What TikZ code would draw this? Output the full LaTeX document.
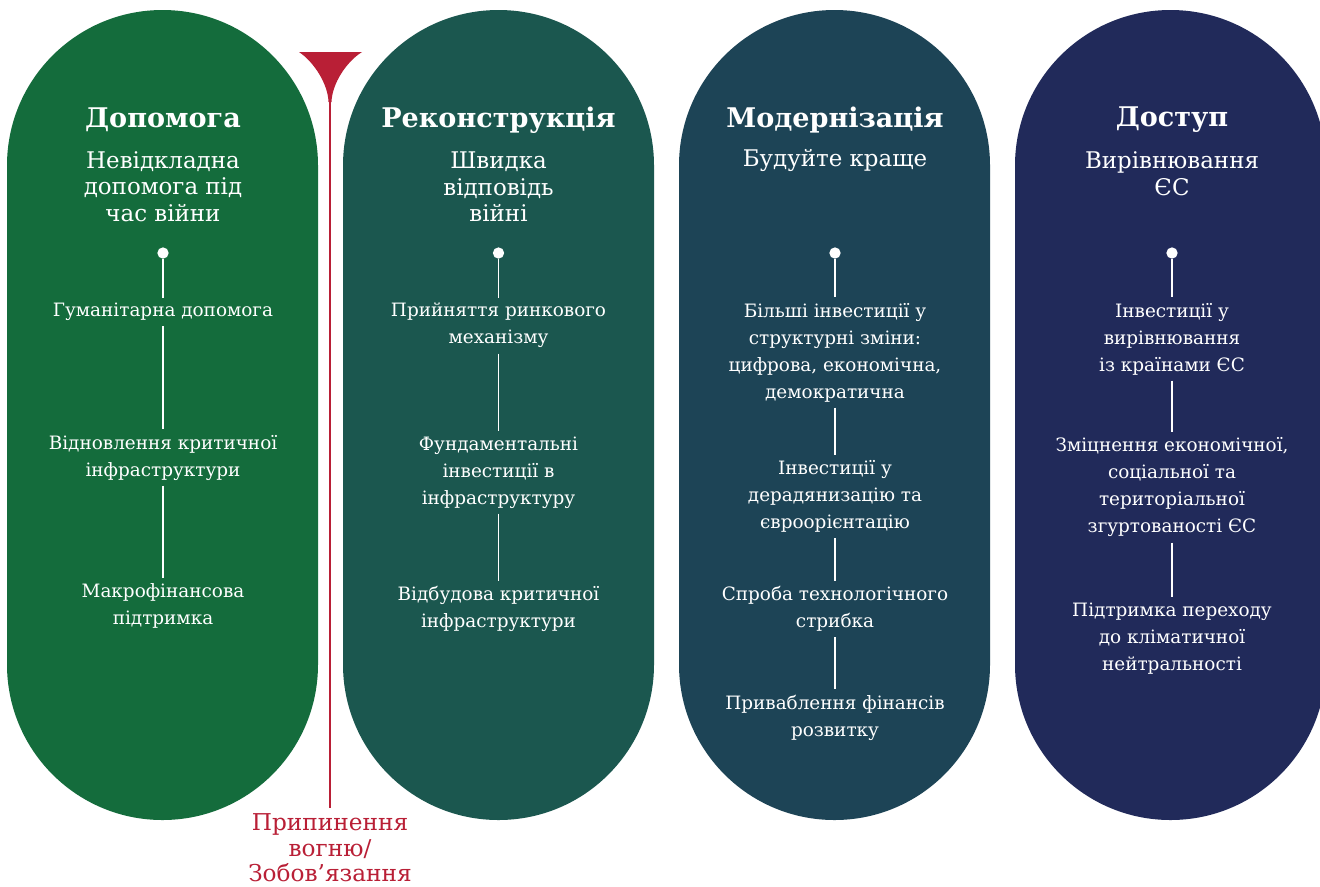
\documentclass[tikz,border=0pt]{standalone}
\usepackage{fontspec}
\setmainfont{DejaVu Serif}
\definecolor{cgreen}{HTML}{146C3C}
\definecolor{cteal}{HTML}{1B574F}
\definecolor{cdteal}{HTML}{1D4456}
\definecolor{cnavy}{HTML}{212A5A}
\definecolor{cred}{HTML}{B91F36}
\begin{document}
\begin{tikzpicture}[x=0.75pt,y=-0.75pt,
  pill/.style={rounded corners=116.6pt},
  head/.style={text=white,inner sep=0pt,font=\fontsize{20.3}{24}\selectfont\bfseries},
  sub/.style={text=white,align=center,inner sep=0pt,font=\fontsize{17.2}{19.9}\selectfont},
  item/.style={text=white,align=center,inner sep=4pt,font=\fontsize{13.8}{20.25}\selectfont},
  dot/.style={circle,fill=white,inner sep=0pt,minimum size=8.5pt},
  conn/.style={draw=white,line width=1.1pt},
  redline/.style={draw=cred,line width=2.2pt},
  redlabel/.style={text=cred,align=center,inner sep=4pt,font=\fontsize{17.4}{19.1}\selectfont}]
\useasboundingbox (0,0) rectangle (1320,886);
\fill[white] (0,0) rectangle (1320,886);
% pills
\fill[cgreen,pill] (7,10) rectangle (318,820);
\fill[cteal,pill] (343,10) rectangle (654,820);
\fill[cdteal,pill] (679,10) rectangle (990,820);
\fill[cnavy,pill] (1015,10) rectangle (1326,820);
% funnel
\fill[cred] (299,52) -- (362,52) .. controls (346,62) and (332,84) .. (331.5,102) -- (328.5,102) .. controls (328,84) and (314,62) .. (299,52) -- cycle;
\coordinate (ftip) at (330,100);
\node[redlabel] (cease) at (330,848) {Припинення\\вогню/\\Зобов’язання};
\draw[redline] (ftip) -- (cease.north);
% pill 1
\node[head] (h1) at (163,120) {Допомога};
\node[sub] (s1) at (163,186.7) {Невідкладна\\допомога під\\час війни};
\node[dot] (d1) at (163,253) {};
\node[item] (a1) at (163,312) {Гуманітарна допомога};
\node[item] (b1) at (163,457.5) {Відновлення критичної\\інфраструктури};
\node[item] (c1) at (163,605.5) {Макрофінансова\\підтримка};
\draw[conn] (d1) -- (a1);
\draw[conn] (a1) -- (b1);
\draw[conn] (b1) -- (c1);
% pill 2
\node[head] (h2) at (498.5,120) {Реконструкція};
\node[sub] (s2) at (498.5,186.7) {Швидка\\відповідь\\війні};
\node[dot] (d2) at (498.5,253) {};
\node[item] (a2) at (498.5,325.5) {Прийняття ринкового\\механізму};
\node[item] (b2) at (498.5,472.3) {Фундаментальні\\інвестиції в\\інфраструктуру};
\node[item] (c2) at (498.5,609) {Відбудова критичної\\інфраструктури};
\draw[conn] (d2) -- (a2);
\draw[conn] (a2) -- (b2);
\draw[conn] (b2) -- (c2);
% pill 3
\node[head] (h3) at (835,120) {Модернізація};
\node[sub] (s3) at (835,160) {Будуйте краще};
\node[dot] (d3) at (835,253) {};
\node[item] (a3) at (835,352.5) {Більші інвестиції у\\структурні зміни:\\цифрова, економічна,\\демократична};
\node[item] (b3) at (835,496.7) {Інвестиції у\\дерадянизацію та\\євроорієнтацію};
\node[item] (c3) at (835,609) {Спроба технологічного\\стрибка};
\node[item] (e3) at (835,717.5) {Приваблення фінансів\\розвитку};
\draw[conn] (d3) -- (a3);
\draw[conn] (a3) -- (b3);
\draw[conn] (b3) -- (c3);
\draw[conn] (c3) -- (e3);
% pill 4
\node[head] (h4) at (1172,120) {Доступ};
\node[sub] (s4) at (1172,173.5) {Вирівнювання\\ЄС};
\node[dot] (d4) at (1172,253) {};
\node[item] (a4) at (1172,339) {Інвестиції у\\вирівнювання\\із країнами ЄС};
\node[item] (b4) at (1172,487.3) {Зміцнення економічної,\\соціальної та\\територіальної\\згуртованості ЄС};
\node[item] (c4) at (1172,638.7) {Підтримка переходу\\до кліматичної\\нейтральності};
\draw[conn] (d4) -- (a4);
\draw[conn] (a4) -- (b4);
\draw[conn] (b4) -- (c4);
\end{tikzpicture}
\end{document}
